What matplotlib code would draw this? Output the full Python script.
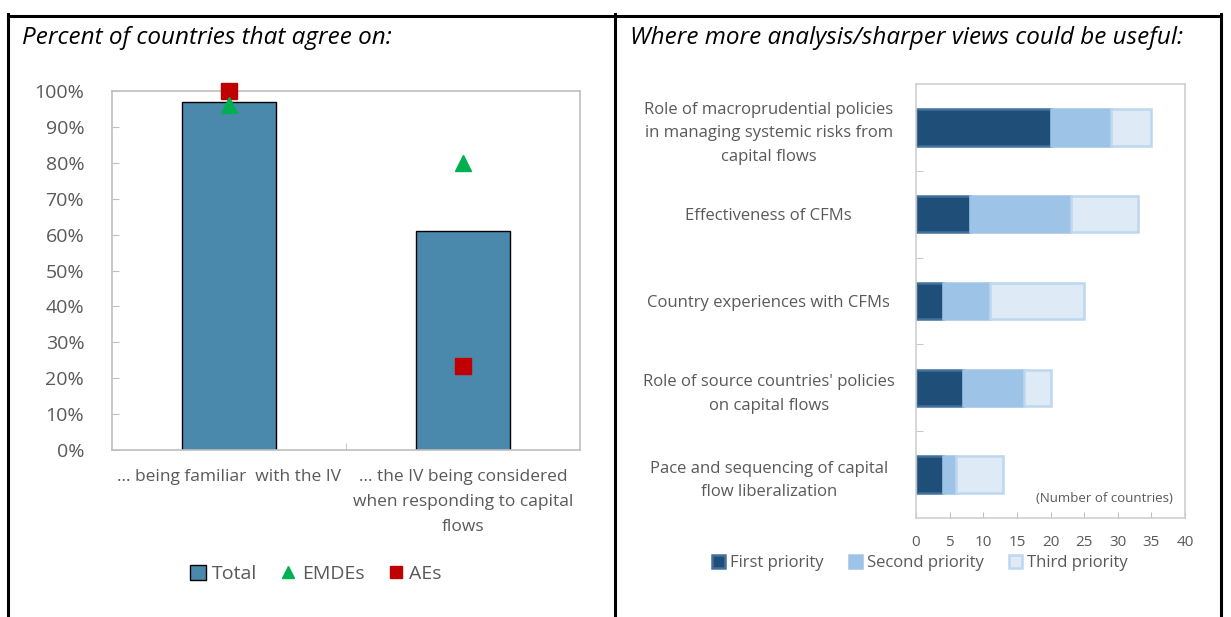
import numpy as np
import matplotlib
matplotlib.use("Agg")
import matplotlib.pyplot as plt
from matplotlib.lines import Line2D
from matplotlib.ticker import PercentFormatter

# =========================
# DATA
# =========================

agree_labels = ["... being familiar  with the IV",
                "... the IV being considered\nwhen responding to capital\nflows"]
total = [0.97, 0.61]
emdes = [0.96, 0.80]
aes = [1.00, 0.233]

topics = ["Role of macroprudential policies\nin managing systemic risks from\ncapital flows",
          "Effectiveness of CFMs",
          "Country experiences with CFMs",
          "Role of source countries' policies\non capital flows",
          "Pace and sequencing of capital\nflow liberalization"]
first = [20, 8, 4, 7, 4]
second = [9, 15, 7, 9, 2]
third = [6, 10, 14, 4, 7]

plt.rcParams["font.family"] = ["Open Sans", "DejaVu Sans"]
gray = "#595959"

fig = plt.figure(figsize=(12.31, 6.17), dpi=100)

# =========================
# FRAME
# =========================

W, H = 1231, 617
for x in [8, 615, 1221]:
    fig.add_artist(Line2D([x / W, x / W], [0, 1 - 14 / H], color="black", lw=2.2))
fig.add_artist(Line2D([8 / W, 1221 / W], [1 - 16 / H, 1 - 16 / H], color="black", lw=2.2))

fig.text(22 / W, 1 - 38 / H, "Percent of countries that agree on:", style="italic",
         fontsize=17.5, va="center", ha="left")
fig.text(630 / W, 1 - 38 / H, "Where more analysis/sharper views could be useful:", style="italic",
         fontsize=17.5, va="center", ha="left")

# =========================
# LEFT CHART
# =========================

ax1 = fig.add_axes([112 / W, 1 - 450 / H, (580 - 112) / W, (450 - 91) / H])
x = np.arange(len(total))
b = ax1.bar(x, total, width=0.4, color="#4A89AC", edgecolor="black", linewidth=1, label="Total", zorder=2)
m1, = ax1.plot(x, emdes, linestyle="none", marker="^", color="#00B050", markersize=11,
               label="EMDEs", zorder=4, clip_on=False)
m2, = ax1.plot(x, aes, linestyle="none", marker="s", color="#C00000", markersize=11,
               label="AEs", zorder=3, clip_on=False)
ax1.set_xlim(-0.5, 1.5)
ax1.set_ylim(0, 1)
ax1.set_yticks(np.arange(0, 1.01, 0.1))
ax1.yaxis.set_major_formatter(PercentFormatter(1.0, decimals=0))
ax1.set_xticks(x)
ax1.set_xticklabels(agree_labels, fontsize=12.5, color=gray, va="top", linespacing=1.75)
ax1.set_xticks([0.5], minor=True)
ax1.tick_params(axis="x", which="major", length=0, pad=14)
ax1.tick_params(axis="x", which="minor", direction="in", length=5, color="#BFBFBF")
ax1.tick_params(axis="y", direction="in", length=5, color="#BFBFBF", labelsize=14,
                labelcolor=gray, pad=20)
for s in ax1.spines.values():
    s.set_color("#BFBFBF")
    s.set_linewidth(1.2)
ax1.legend([b, m1, m2], ["Total", "EMDEs", "AEs"], loc="upper center",
           bbox_to_anchor=(0.436, -0.272), ncol=3, frameon=False,
           fontsize=14, labelcolor=gray, handlelength=0.8, handleheight=0.8,
           handletextpad=0.3, columnspacing=1.2, markerscale=0.75)

# =========================
# RIGHT CHART
# =========================

ax2 = fig.add_axes([916 / W, 1 - 518 / H, (1185 - 916) / W, (518 - 84) / H])
y = np.arange(len(topics))
left2 = np.array(first)
left3 = left2 + np.array(second)
ax2.barh(y, first, height=0.42, color="#1F4E79", edgecolor="#41719C", linewidth=1.8,
         label="First priority", zorder=2)
ax2.barh(y, second, left=left2, height=0.42, color="#9DC3E6", edgecolor="#9DC3E6", linewidth=1.8,
         label="Second priority", zorder=2)
ax2.barh(y, third, left=left3, height=0.42, color="#DEEBF7", edgecolor="#BDD7EE", linewidth=1.8,
         label="Third priority", zorder=2)
ax2.set_ylim(len(topics) - 0.5, -0.5)
ax2.set_xlim(0, 40)
ax2.set_xticks(np.arange(0, 41, 5))
ax2.set_yticks(y)
ax2.set_yticklabels(topics, fontsize=12, color=gray, ha="center", linespacing=1.65)
ax2.set_yticks(np.arange(0.5, len(topics) - 1, 1), minor=True)
ax2.tick_params(axis="y", which="major", length=0, pad=106)
ax2.tick_params(axis="y", which="minor", direction="in", length=5, color="#BFBFBF")
ax2.tick_params(axis="x", direction="in", length=4, color="#BFBFBF", labelsize=11,
                labelcolor=gray, pad=12)
for s in ax2.spines.values():
    s.set_color("#D0D0D0")
    s.set_linewidth(1.2)
ax2.text(0.955, 0.045, "(Number of countries)", transform=ax2.transAxes, ha="right",
         va="center", fontsize=9.5, color=gray)
ax2.legend(loc="upper center", bbox_to_anchor=(0.015, -0.051), ncol=3, frameon=False,
           fontsize=12, labelcolor=gray, handlelength=0.8, handleheight=0.8,
           handletextpad=0.3, columnspacing=1.5)

fig.savefig("out.png", dpi=100)
